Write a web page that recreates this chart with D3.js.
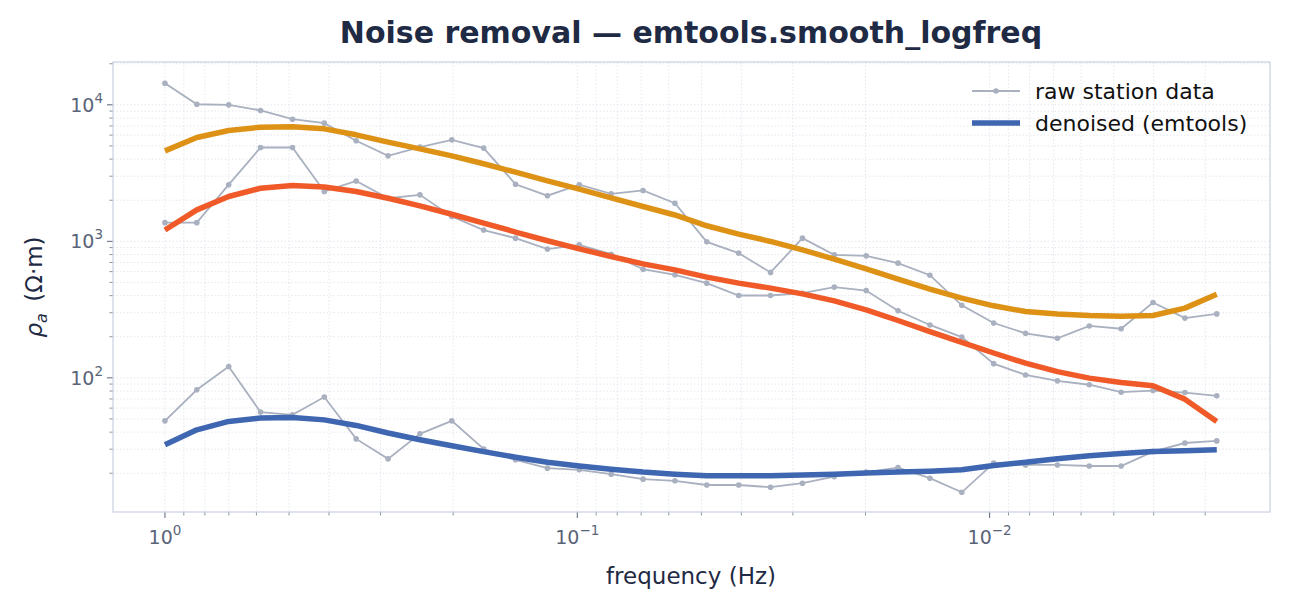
<!DOCTYPE html>
<html><head><meta charset="utf-8">
<script src="https://cdn.jsdelivr.net/npm/d3@7"></script>
<style>body{margin:0;background:#fff;font-family:"DejaVu Sans",sans-serif}</style>
</head><body><div id="chart"></div>
<script>
const W = 1290, H = 610;
const m = {l: 113, r: 20, t: 62, b: 98};
const n = 34;
// frequencies, log spaced from 1 Hz downward
const freqs = d3.range(n).map(i => Math.pow(10, -i * 0.0773));

const raw = [
  [14400,10100,10000,9100,7850,7340,5450,4230,4900,5540,4820,2620,2160,2600,2230,2360,1900,991,819,592,1055,796,783,692,565,340,252,212,195,240,229,356,274,294],
  [1370,1370,2600,4870,4870,2320,2770,2070,2190,1520,1210,1055,877,943,805,625,569,494,401,401,417,462,436,310,244,199,127,105,95,89,78.5,80.7,78,73.8],
  [48.4,81.7,121,56.1,53.6,72.3,35.7,25.5,38.9,48.4,30.1,25.1,21.8,21.2,19.7,18.1,17.6,16.4,16.4,15.8,16.9,18.9,20.4,22.0,18.4,14.5,23.7,23.0,23.0,22.6,22.6,28.8,33.3,34.5]
];
const smooth = [
  {color: '#dd9216', v: [4600,5760,6490,6860,6900,6670,6030,5330,4760,4230,3700,3210,2770,2410,2080,1800,1560,1300,1130,998,867,740,629,529,447,384,337,306,293,286,283,286,324,410]},
  {color: '#f05a28', v: [1210,1700,2130,2450,2560,2500,2320,2070,1820,1580,1360,1170,1010,881,774,684,618,547,494,454,412,366,315,263,218,182,152,128,111,99.5,92.5,87.4,69.8,47.9]},
  {color: '#3f66b0', v: [32.3,41.6,47.9,50.7,51.3,49.2,44.8,39.4,35.2,31.8,28.8,26.2,24.1,22.6,21.4,20.4,19.7,19.2,19.2,19.2,19.4,19.7,20.1,20.4,20.7,21.2,22.8,24.1,25.5,26.9,27.9,28.8,29.2,29.7]}
];

const svg = d3.select('#chart').append('svg').attr('width', W).attr('height', H)
  .style('font-family', '"DejaVu Sans", sans-serif');

const x = d3.scaleLog().domain([Math.pow(10, 0.126), Math.pow(10, -2.68)]).range([m.l, W - m.r]);
const y = d3.scaleLog().domain([10.4, 20600]).range([H - m.b, m.t]);

// grid (minor + major)
const xMinor = [], yMinor = [];
for (let e = -3; e <= 0; e++) for (let k = 1; k < 10; k++) {
  const v = k * Math.pow(10, e);
  if (v >= x.domain()[1] && v <= x.domain()[0]) xMinor.push(v);
}
for (let e = 1; e <= 4; e++) for (let k = 1; k < 10; k++) {
  const v = k * Math.pow(10, e);
  if (v >= y.domain()[0] && v <= y.domain()[1]) yMinor.push(v);
}
svg.append('g').selectAll('line').data(xMinor).join('line')
  .attr('x1', d => x(d)).attr('x2', d => x(d)).attr('y1', m.t).attr('y2', H - m.b)
  .attr('stroke', '#dde1ea').attr('stroke-dasharray', '1.5,2').attr('stroke-width', 0.8);
svg.append('g').selectAll('line').data(yMinor).join('line')
  .attr('y1', d => y(d)).attr('y2', d => y(d)).attr('x1', m.l).attr('x2', W - m.r)
  .attr('stroke', '#dde1ea').attr('stroke-dasharray', '1.5,2').attr('stroke-width', 0.8);

// ticks
const tickCol = '#5a6478';
const gx = svg.append('g');
xMinor.forEach(v => {
  const major = Math.abs(Math.log10(v) - Math.round(Math.log10(v))) < 1e-9;
  gx.append('line').attr('x1', x(v)).attr('x2', x(v)).attr('y1', H - m.b).attr('y2', H - m.b + (major ? 6 : 3.5))
    .attr('stroke', tickCol).attr('stroke-width', major ? 1 : 0.7);
  if (major) {
    const t = gx.append('text').attr('x', x(v)).attr('y', H - m.b + 32).attr('text-anchor', 'middle')
      .attr('fill', tickCol).attr('font-size', 19);
    t.append('tspan').text('10');
    t.append('tspan').attr('dy', -9).attr('font-size', 13.5).text(Math.round(Math.log10(v)) === 0 ? '0' : '\u2212' + Math.abs(Math.round(Math.log10(v))));
  }
});
const gy = svg.append('g');
yMinor.forEach(v => {
  const major = Math.abs(Math.log10(v) - Math.round(Math.log10(v))) < 1e-9;
  gy.append('line').attr('x1', m.l).attr('x2', m.l - (major ? 6 : 3.5)).attr('y1', y(v)).attr('y2', y(v))
    .attr('stroke', tickCol).attr('stroke-width', major ? 1 : 0.7);
  if (major) {
    const t = gy.append('text').attr('x', m.l - 10).attr('y', y(v) + 7).attr('text-anchor', 'end')
      .attr('fill', tickCol).attr('font-size', 19);
    t.append('tspan').text('10');
    t.append('tspan').attr('dy', -9).attr('font-size', 13.5).text(Math.round(Math.log10(v)));
  }
});

const line = d3.line().x((d, i) => x(freqs[i])).y(d => y(d));

// raw data
raw.forEach(s => {
  svg.append('path').datum(s).attr('d', line).attr('fill', 'none').attr('stroke', '#a9b0bf').attr('stroke-width', 1.8);
  svg.append('g').selectAll('circle').data(s).join('circle')
    .attr('cx', (d, i) => x(freqs[i])).attr('cy', d => y(d)).attr('r', 2.8).attr('fill', '#a9b0bf');
});
// denoised
smooth.forEach(s => {
  svg.append('path').datum(s.v).attr('d', line).attr('fill', 'none').attr('stroke', s.color)
    .attr('stroke-width', 5.5).attr('stroke-linejoin', 'round');
});

// frame
svg.append('rect').attr('x', m.l).attr('y', m.t).attr('width', W - m.r - m.l).attr('height', H - m.b - m.t)
  .attr('fill', 'none').attr('stroke', '#c8d0e0').attr('stroke-width', 1.2);

// titles
svg.append('text').attr('x', 691).attr('y', 43).attr('text-anchor', 'middle').attr('font-size', 30)
  .attr('font-weight', 'bold').attr('fill', '#1f2a44').text('Noise removal \u2014 emtools.smooth_logfreq');
svg.append('text').attr('x', 691).attr('y', 584).attr('text-anchor', 'middle').attr('font-size', 23)
  .attr('fill', '#1f2a44').text('frequency (Hz)');
const yl = svg.append('text').attr('transform', 'translate(42,287) rotate(-90)').attr('text-anchor', 'middle')
  .attr('font-size', 23).attr('fill', '#1f2a44');
yl.append('tspan').attr('font-style', 'italic').text('\u03c1');
yl.append('tspan').attr('font-style', 'italic').attr('font-size', 16).attr('dy', 5).text('a');
yl.append('tspan').attr('dy', -5).text('\u2002(\u03a9\u00b7m)');

// legend
const lg = svg.append('g').attr('transform', 'translate(972,91)');
lg.append('line').attr('x1', 0).attr('x2', 48).attr('stroke', '#a9b0bf').attr('stroke-width', 1.8);
lg.append('circle').attr('cx', 24).attr('r', 2.8).attr('fill', '#a9b0bf');
lg.append('text').attr('x', 63).attr('y', 8).attr('font-size', 22).attr('fill', '#111').text('raw station data');
lg.append('line').attr('x1', 0).attr('x2', 48).attr('y1', 32).attr('y2', 32).attr('stroke', '#3f66b0').attr('stroke-width', 5.5);
lg.append('text').attr('x', 63).attr('y', 40).attr('font-size', 22).attr('fill', '#111').text('denoised (emtools)');
</script>
</body></html>
